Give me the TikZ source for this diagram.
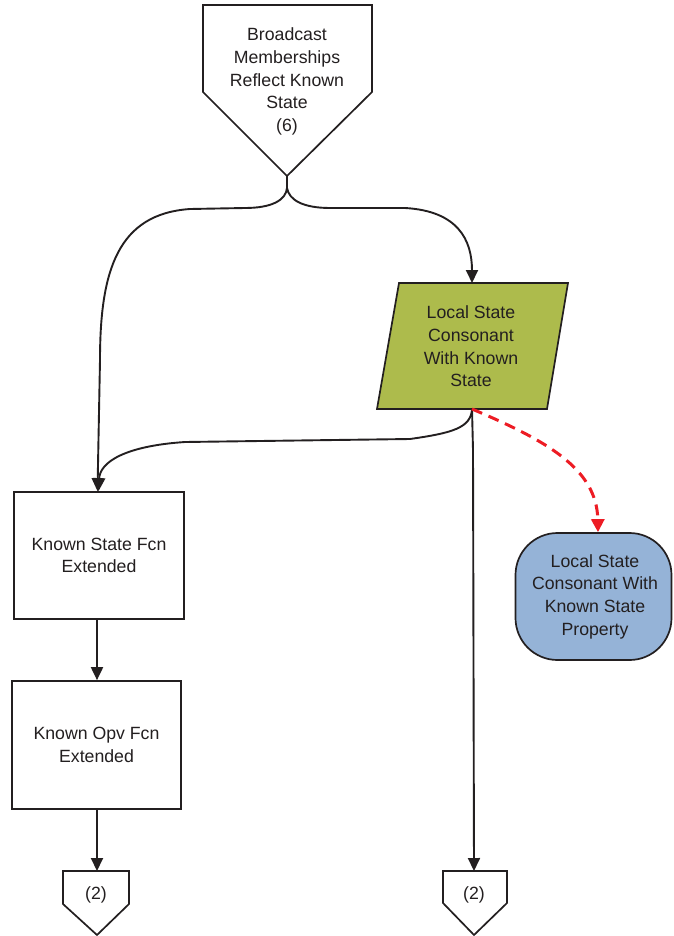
\documentclass[tikz,border=0pt]{standalone}
\usepackage{fontspec}
\setmainfont{Liberation Sans}
\usetikzlibrary{arrows.meta}
\definecolor{ink}{HTML}{231F20}
\definecolor{olivefill}{HTML}{ADBB4C}
\definecolor{bluefill}{HTML}{95B3D7}
\definecolor{linkred}{HTML}{ED1C24}
\tikzset{
  lbl/.style={align=center, text=ink, font=\fontsize{17.7}{22.7}\selectfont, inner sep=0pt},
  boxshape/.style={draw=ink, line width=1.7pt, fill=white},
  flow/.style={draw=ink, line width=1.9pt, -{Triangle[width=12pt,length=13pt]}},
  plainflow/.style={draw=ink, line width=1.9pt},
  relation/.style={draw=linkred, line width=3pt, dash pattern=on 11pt off 7pt,
    -{Triangle[width=13pt,length=13pt]}},
}
\begin{document}
\begin{tikzpicture}[x=1pt,y=-1pt]
\useasboundingbox (0,0) rectangle (673,936);

% off-page connector at the top
\draw[boxshape] (203,5) -- (372,5) -- (372,92) -- (287,176) -- (203,92) -- cycle;
\coordinate (bcTip) at (287,176);
\coordinate (bcSplit) at (287,188);
\node[lbl] (bc) at (287,81.5) {Broadcast\\Memberships\\Reflect Known\\State\\(6)};

% parallelogram: local state consonant
\draw[boxshape, fill=olivefill] (399,283) -- (568,283) -- (547,409) -- (377,409) -- cycle;
\coordinate (lsTop) at (472,283);
\coordinate (lsBot) at (472,409);
\node[lbl] (ls) at (471,346.5) {Local State\\Consonant\\With Known\\State};

% rounded property node
\node[boxshape, fill=bluefill, rounded corners=42pt, minimum width=156pt, minimum height=127pt]
  (prop) at (593.5,596.5) {};
\node[lbl] (propText) at (595,596.5) {Local State\\Consonant With\\Known State\\Property};

% rectangular process boxes
\node[boxshape, minimum width=170pt, minimum height=127pt] (ksf) at (99,555.5) {};
\node[lbl] at (ksf.center) {Known State Fcn\\Extended};
\node[boxshape, minimum width=169pt, minimum height=128pt] (kof) at (96.5,745) {};
\node[lbl] at (kof.center) {Known Opv Fcn\\Extended};

% bottom off-page connectors
\draw[boxshape] (63,871) -- (129,871) -- (129,904) -- (97,935) -- (63,904) -- cycle;
\coordinate (offL) at (97,871);
\node[lbl] (offLText) at (96,895) {(2)};
\draw[boxshape] (443,871) -- (507,871) -- (507,903) -- (474,935) -- (443,903) -- cycle;
\coordinate (offR) at (474,871);
\node[lbl] (offRText) at (474,895) {(2)};

% connectors
\draw[plainflow] (bcTip) -- (bcSplit);
\draw[flow] (bcSplit) .. controls (286,200) and (272,208) .. (245,208)
  -- (190,209) .. controls (118,214) and (100,270) .. (100,360) -- (ksf.north -| 97.5,0);
\draw[flow] (bcSplit) .. controls (289,200) and (303,208) .. (330,208)
  -- (405,208) .. controls (458,211) and (472,240) .. (lsTop);
\draw[flow] (lsBot) .. controls (471,428) and (452,433) .. (410,439)
  -- (185,442) .. controls (125,446) and (100,462) .. (ksf.north -| 98.5,0);
\draw[flow] (lsBot) -- (473,450) -- (offR);
\draw[flow] (ksf.south -| 97,0) -- (kof.north -| 97,0);
\draw[flow] (kof.south -| 97,0) -- (offL);
\draw[relation] (lsBot) .. controls (545,440) and (597,468) .. (prop.north -| 598,0);
\end{tikzpicture}
\end{document}
